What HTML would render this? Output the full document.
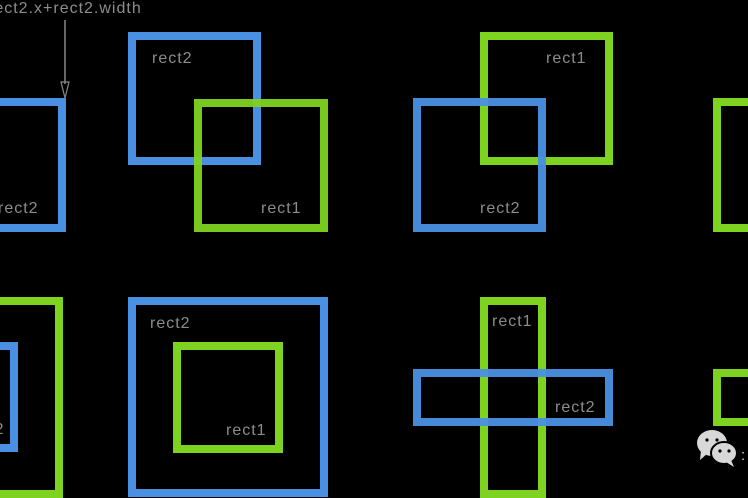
<!DOCTYPE html>
<html><head><style>html,body{margin:0;padding:0;background:#000;width:748px;height:498px;overflow:hidden}</style></head>
<body>
<svg width="748" height="498" viewBox="0 0 748 498" xmlns="http://www.w3.org/2000/svg" style="display:block">
<rect width="748" height="498" fill="#000"/>
<g fill="none" stroke-width="8">
  <rect x="-20" y="102" width="82" height="126" stroke="#4a90e2"/>
  <rect x="132" y="36" width="125" height="125" stroke="#4a90e2"/>
  <rect x="198" y="103" width="126" height="125" stroke="#7ed321" stroke-opacity="0.95"/>
  <rect x="484" y="36" width="125" height="125" stroke="#7ed321"/>
  <rect x="417" y="102" width="125" height="126" stroke="#4a90e2" stroke-opacity="0.95"/>
  <rect x="717" y="102" width="60" height="126" stroke="#7ed321"/>
  <rect x="-20" y="301" width="79" height="193" stroke="#7ed321"/>
  <rect x="-20" y="346" width="34" height="102" stroke="#4a90e2"/>
  <rect x="132" y="301" width="192" height="192" stroke="#4a90e2"/>
  <rect x="177" y="346" width="102" height="103" stroke="#7ed321"/>
  <rect x="484" y="301" width="58" height="193" stroke="#7ed321"/>
  <rect x="417" y="373" width="192" height="49" stroke="#4a90e2" stroke-opacity="0.95"/>
  <rect x="717" y="373" width="60" height="49" stroke="#7ed321"/>
</g>
<line x1="65" y1="20" x2="65" y2="84" stroke="#888" stroke-width="1.5"/>
<polygon points="61,82 69,82 65,98" fill="none" stroke="#888" stroke-width="1.2"/>
<g font-family="Liberation Sans, sans-serif" font-size="16" letter-spacing="1" fill="#8c8c8c">
  <text x="-12" y="13">rect2.x+rect2.width</text>
  <text x="-2" y="213">rect2</text>
  <text x="152" y="63">rect2</text>
  <text x="261" y="213">rect1</text>
  <text x="546" y="63">rect1</text>
  <text x="480" y="213">rect2</text>
  <text x="-36" y="434">rect2</text>
  <text x="150" y="328">rect2</text>
  <text x="226" y="435">rect1</text>
  <text x="492" y="326">rect1</text>
  <text x="555" y="412">rect2</text>
</g>
<g fill="#d8d8d8">
  <ellipse cx="712" cy="443" rx="15" ry="13"/>
  <polygon points="701,450 700,460 708,453"/>
  <ellipse cx="724" cy="453" rx="13" ry="11" stroke="#000" stroke-width="2"/>
  <polygon points="731,460 734,467 726,462"/>
</g>
<g fill="#000">
  <circle cx="707" cy="440" r="1.6"/><circle cx="717" cy="440" r="1.6"/>
  <circle cx="720" cy="451" r="1.6"/><circle cx="729" cy="451" r="1.6"/>
</g>
<text x="741" y="460" font-family="Liberation Sans, sans-serif" font-size="15" fill="#d8d8d8">:</text>
</svg>
</body></html>
